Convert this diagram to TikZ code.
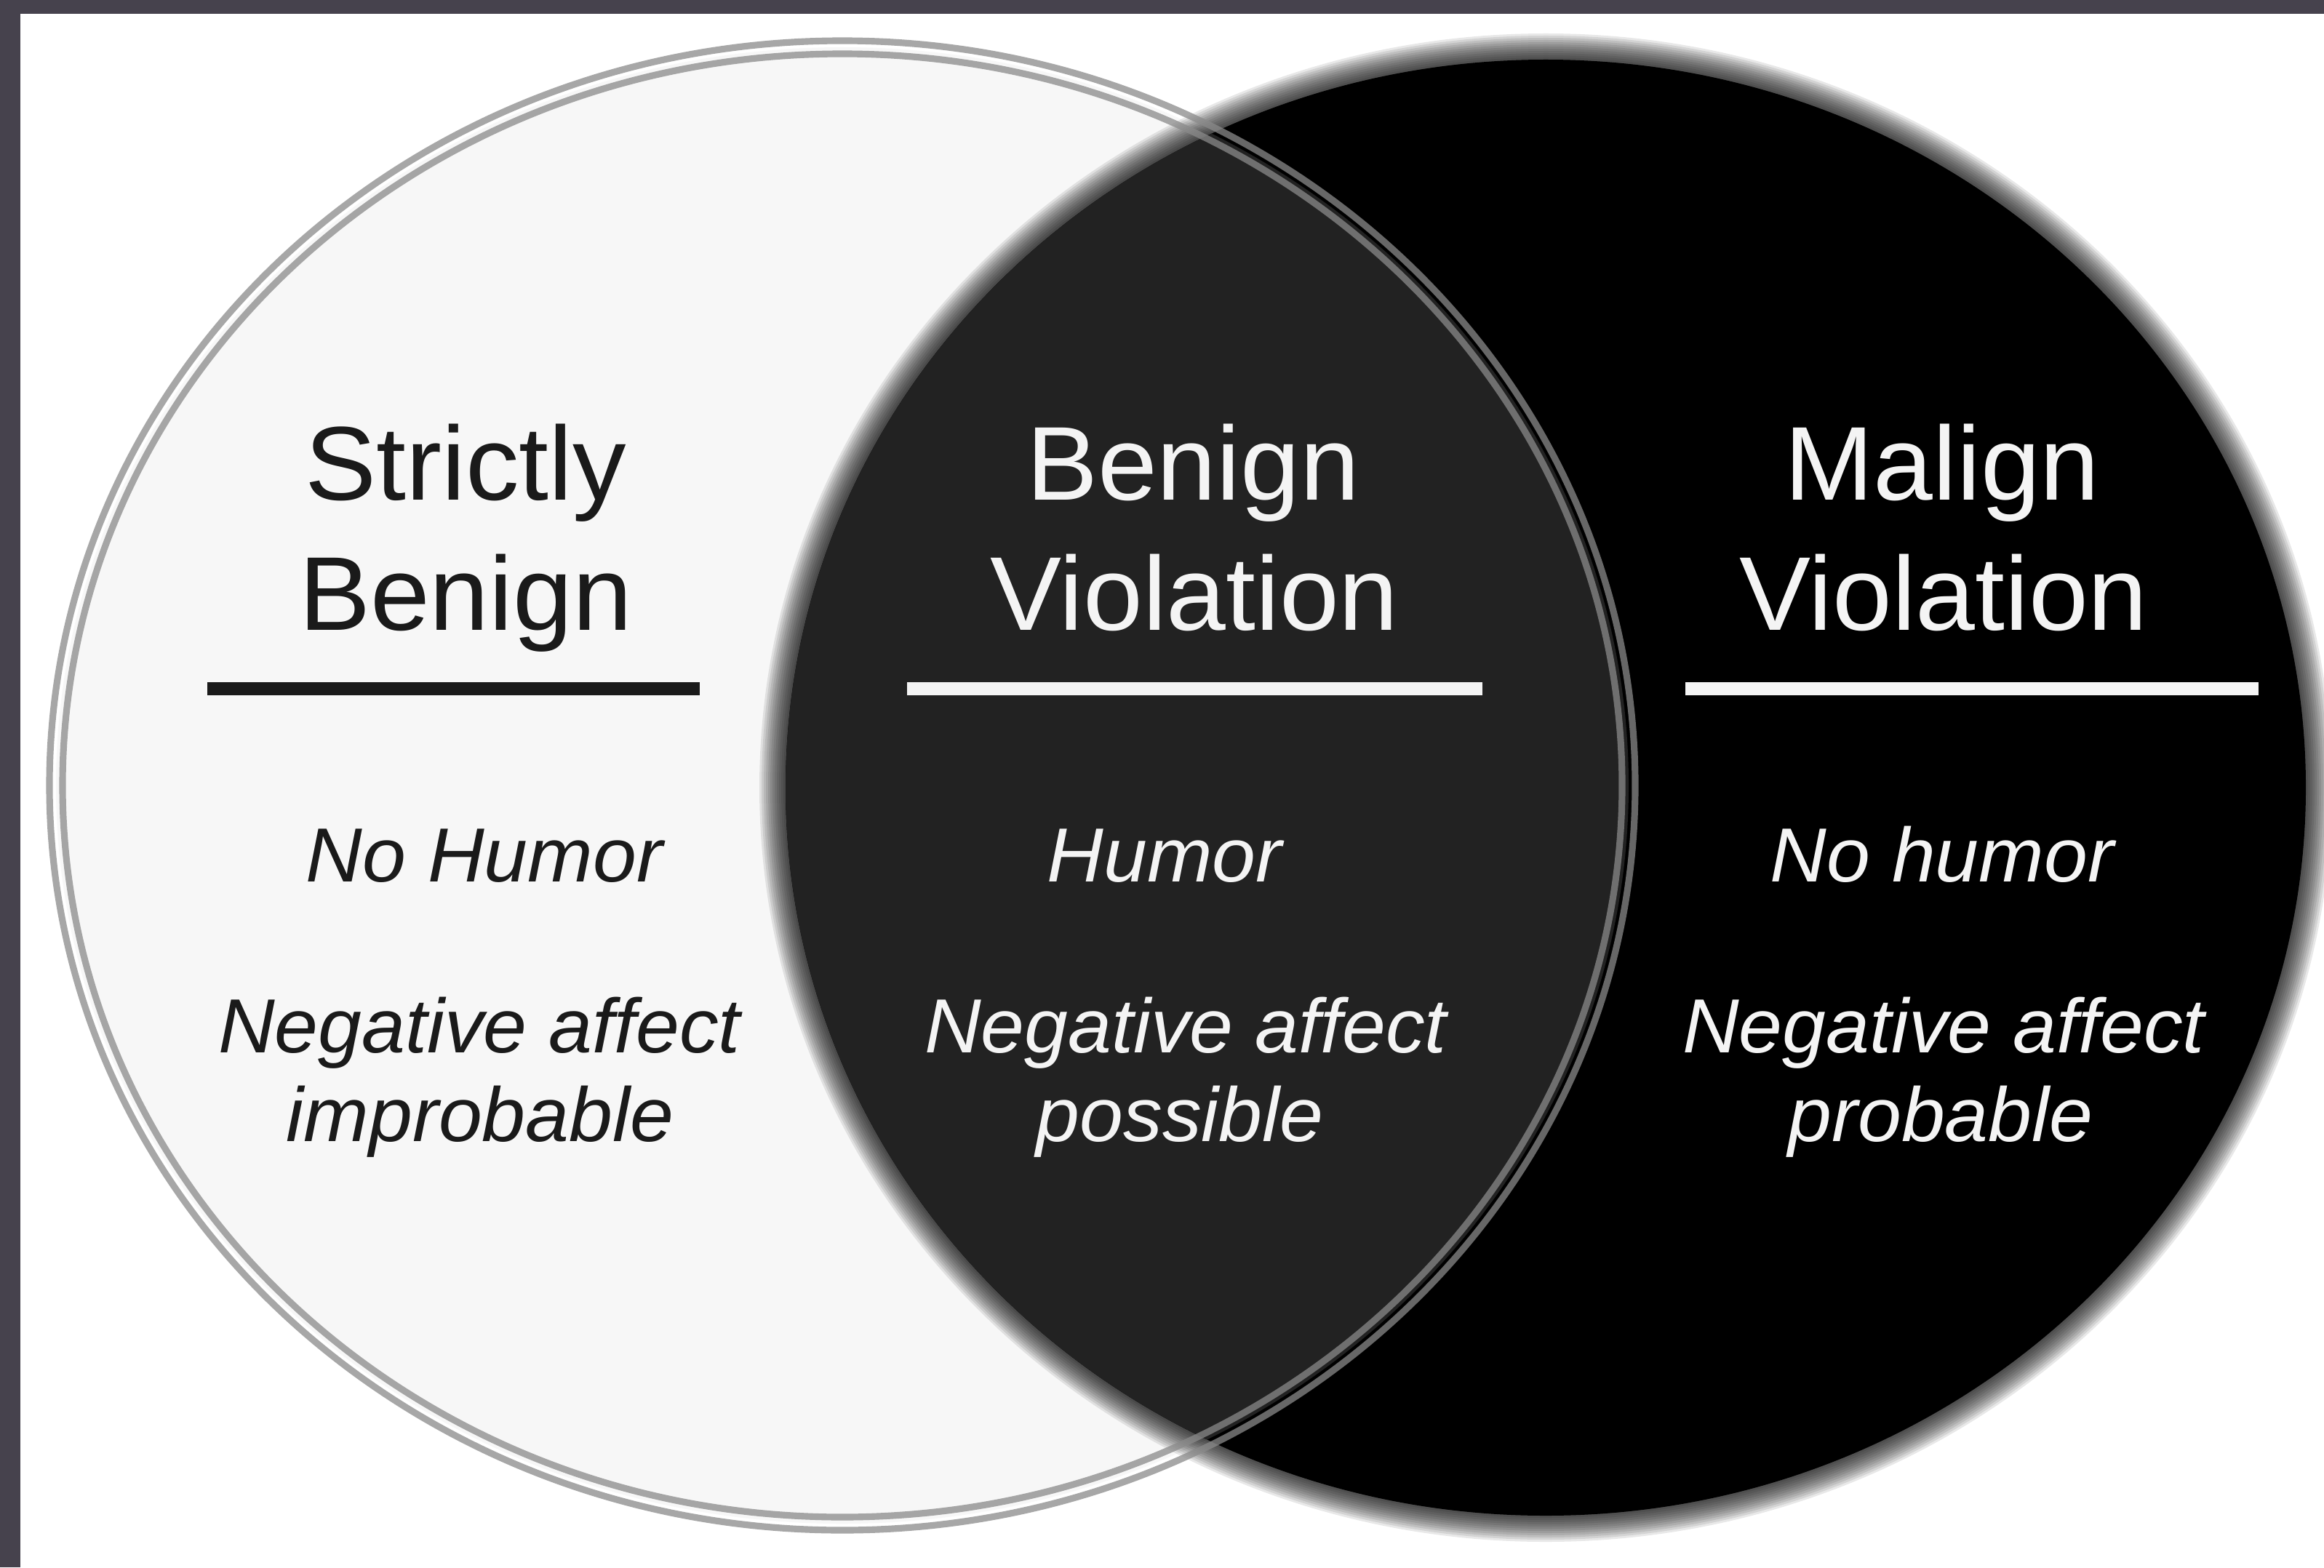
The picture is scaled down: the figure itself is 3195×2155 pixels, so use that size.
\documentclass[tikz,border=0pt]{standalone}
\usepackage{fontspec}
\setmainfont{Liberation Sans}
\definecolor{frameC}{HTML}{46424D}
\definecolor{lightC}{HTML}{F7F7F7}
\definecolor{midC}{HTML}{222222}
\definecolor{ringC}{HTML}{8A8A8A}
\definecolor{darkTxt}{HTML}{1A1A1A}
\definecolor{lightTxt}{HTML}{F4F4F4}
\begin{document}
\begin{tikzpicture}[x=0.01cm,y=-0.01cm,
  head/.style={anchor=base, inner sep=0pt, font=\fontsize{41}{52}\selectfont, xscale=1.02},
  sub/.style={anchor=base, inner sep=0pt, font=\fontsize{30}{35}\selectfont\itshape, xscale=1.02},
  onlight/.style={text=darkTxt},
  ondark/.style={text=lightTxt},
  rulebar/.style={line width=5pt, line cap=butt}]
\useasboundingbox (0,0) rectangle (3195,2155);
\fill[white] (0,0) rectangle (3195,2155);
% left (strictly benign) circle
\fill[lightC] (1158,1080) ellipse [x radius=1081, y radius=1015];
% right (malign) circle with soft edge
\foreach \d [evaluate=\d as \rx using 1045+\d, evaluate=\d as \ry using 1001+\d] in {36,33,...,3}
  \fill[black,fill opacity=0.09] (2125,1083) ellipse [x radius=\rx, y radius=\ry];
\fill[black] (2125,1083) ellipse [x radius=1045, y radius=1001];
% intersection
\begin{scope}
  \clip (1158,1080) ellipse [x radius=1081, y radius=1015];
  \fill[midC] (2125,1083) ellipse [x radius=1045, y radius=1001];
\end{scope}
% double outline of the left circle
\draw[ringC, line width=2.6pt, opacity=0.75] (1158,1080) ellipse [x radius=1072, y radius=1006];
\draw[ringC, line width=2.6pt, opacity=0.75] (1158,1080) ellipse [x radius=1090, y radius=1024];
% frame bands
\fill[frameC] (0,0) rectangle (3195,19);
\fill[frameC] (0,0) rectangle (28,2155);
% left column
\node[head,onlight] (sbA) at (640,687) {Strictly};
\node[head,onlight] (sbB) at (640,866) {Benign};
\draw[rulebar,darkTxt] (285,947) -- (962,947);
\node[sub,onlight] (sbC) at (666,1212) {No Humor};
\node[sub,onlight] (sbD) at (659,1447) {Negative affect};
\node[sub,onlight] (sbE) at (660,1569) {improbable};
% middle column
\node[head,ondark] (bvA) at (1640,687) {Benign};
\node[head,ondark] (bvB) at (1642,866) {Violation};
\draw[rulebar,lightTxt] (1247,947) -- (2038,947);
\node[sub,ondark] (bvC) at (1601,1212) {Humor};
\node[sub,ondark] (bvD) at (1630,1447) {Negative affect};
\node[sub,ondark] (bvE) at (1622,1569) {possible};
% right column
\node[head,ondark] (mvA) at (2670,687) {Malign};
\node[head,ondark] (mvB) at (2672,866) {Violation};
\draw[rulebar,lightTxt] (2317,947) -- (3105,947);
\node[sub,ondark] (mvC) at (2670,1212) {No humor};
\node[sub,ondark] (mvD) at (2672,1447) {Negative affect};
\node[sub,ondark] (mvE) at (2668,1569) {probable};
\end{tikzpicture}
\end{document}
